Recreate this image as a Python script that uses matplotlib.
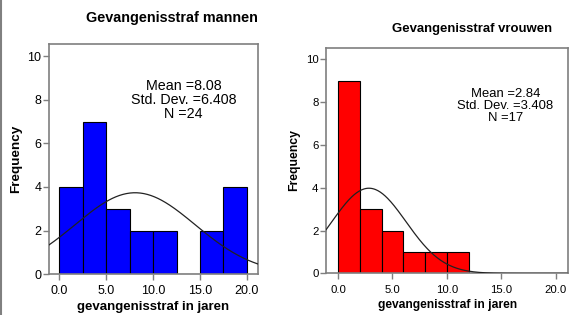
import numpy as np
import matplotlib
matplotlib.use("Agg")
import matplotlib.pyplot as plt
from matplotlib.lines import Line2D

plt.rcParams["font.family"] = ["Liberation Sans", "DejaVu Sans"]

# Histogram data
men_edges = [0.0, 2.5, 5.0, 7.5, 10.0, 12.5, 15.0, 17.5, 20.0]
men_counts = [4, 7, 3, 2, 2, 0, 2, 4]
men_mean, men_sd, men_n = 8.08, 6.408, 24

women_edges = [0, 2, 4, 6, 8, 10, 12]
women_counts = [9, 3, 2, 1, 1, 1]
women_mean, women_sd, women_n = 2.84, 3.408, 17

x_ticks = [0, 5, 10, 15, 20]
x_ticklabels = ["0.0", "5.0", "10.0", "15.0", "20.0"]
y_ticks = [0, 2, 4, 6, 8, 10]

SPINE = "#7f7f7f"


def panel(ax, edges, counts, mean, sd, n, color, title, scale, title_xy, stats_xy):
    edges = np.asarray(edges, dtype=float)
    widths = np.diff(edges)
    ax.bar(edges[:-1], counts, width=widths, align="edge", color=color,
           edgecolor="black", linewidth=0.8, zorder=2)

    xlim = (-1.1, 21.15)
    xs = np.linspace(xlim[0], xlim[1], 300)
    bw = widths[0]
    ys = n * bw / (sd * np.sqrt(2 * np.pi)) * np.exp(-0.5 * ((xs - mean) / sd) ** 2)
    ax.plot(xs, ys, color="#222222", linewidth=0.9, zorder=3)

    ax.set_xlim(*xlim)
    ax.set_ylim(0, 10.55)
    ax.set_xticks(x_ticks)
    ax.set_xticklabels(x_ticklabels)
    ax.set_yticks(y_ticks)
    ax.tick_params(axis="both", length=4, width=1, color=SPINE,
                   labelsize=9 * scale)
    ax.tick_params(axis="x", pad=4)
    ax.tick_params(axis="y", pad=1.5)
    for sp in ax.spines.values():
        sp.set_color(SPINE)
        sp.set_linewidth(1.2)

    ax.set_xlabel("gevangenisstraf in jaren", fontsize=9.5 * scale,
                  fontweight="bold", labelpad=3)
    ax.set_ylabel("Frequency", fontsize=9.7 * scale, fontweight="bold", labelpad=4)

    fig = ax.figure
    fig.text(title_xy[0], title_xy[1], title, fontsize=10.4 * scale,
             fontweight="bold", ha="center", va="center")
    txt = f"Mean ={mean}\nStd. Dev. ={sd}\nN ={n}"
    fig.text(stats_xy[0], stats_xy[1], txt, fontsize=10.3 * scale,
             ha="center", va="top", linespacing=1.0)


fig = plt.figure(figsize=(5.7, 3.15), dpi=100)
fig.patch.set_facecolor("white")

ax1 = fig.add_axes([0.086, 0.130, 0.366, 0.729])
ax2 = fig.add_axes([0.572, 0.132, 0.425, 0.717])

panel(ax1, men_edges, men_counts, men_mean, men_sd, men_n, "#0000ff",
      "Gevangenisstraf mannen", 1.0, (0.302, 0.943), (0.322, 0.750))
panel(ax2, women_edges, women_counts, women_mean, women_sd, women_n, "#ff0000",
      "Gevangenisstraf vrouwen", 0.91, (0.828, 0.908), (0.887, 0.722))

# thin gray frame line at the left edge of the image
fig.add_artist(Line2D([0.002, 0.002], [0, 1], transform=fig.transFigure,
                      color="#808080", linewidth=1.5))

fig.savefig("out.png", dpi=100, facecolor="white")
